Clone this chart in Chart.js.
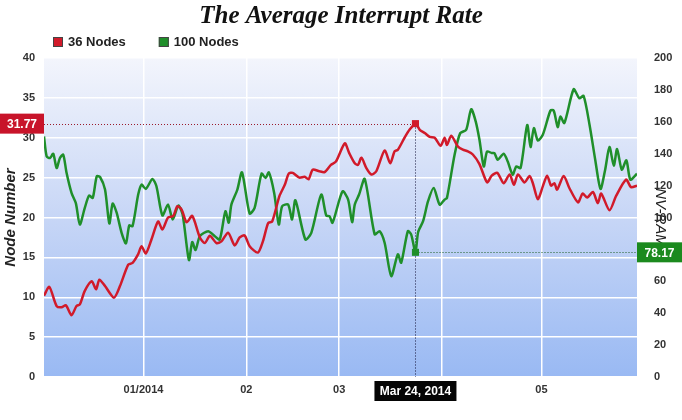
<!DOCTYPE html>
<html>
<head>
<meta charset="utf-8">
<script src="https://cdn.jsdelivr.net/npm/chart.js@4/dist/chart.umd.min.js"></script>
<style>
  body { margin: 0; background: #fff; }
  #wrap { width: 682px; height: 420px; }
</style>
</head>
<body>
<div id="wrap"><canvas id="grafik" width="682" height="420"></canvas></div>
<script>
// x values are days counted from Dec 2, 2013
const monthTicks = [30, 61, 89, 120, 150]
const monthLabels = ['01/2014', '02', '03', '04', '05']

const redDays = [0, 1.6, 3.8, 5.3, 6.6, 8.3, 9.8, 10.8, 12.3, 14.4, 15.7, 16.7, 18.4, 21.1, 22.9, 25.4, 26.7, 28.4, 29.4, 30.7,
    32.4, 34.4, 35.7, 37.4, 39, 40.2, 41.5, 43, 44.7, 47, 48.5, 50, 52, 53.5, 55.5, 57.5, 59, 60.5, 62, 64.5,
    66, 67.6, 68.8, 71, 72.6, 73.8, 75, 77, 78.6, 79.8, 81, 83, 84.6, 86.5, 88, 90.7, 92, 93.7, 94.7, 95.7,
    97.2, 98.7, 100.2, 102.7, 104.4, 105.7, 106.7, 108.7, 110.2, 112, 113.3, 114.8, 116.3, 117.8, 119.6, 120.8, 121.5, 122.8, 124.8, 126.3,
    127.8, 129.3, 131.3, 133.6, 135, 136.7, 138.6, 140.4, 141.7, 142.9, 144.9, 146.4, 147.4, 148.9, 150.4, 151.7, 152.9, 153.9, 154.7, 156.7,
    158.4, 161, 162.4, 163.8, 165.5, 167, 168, 170.5, 172.5, 175.5, 177, 178.8]
const nodes36 = [10.2, 11.3, 8.9, 8.75, 9.0, 7.75, 8.9, 9.1, 10.8, 12.0, 11.0, 12.2, 11.4, 9.95, 11.4, 14.1, 14.3, 15.4, 16.4, 15.5,
    17.25, 19.5, 18.5, 20.0, 20.2, 21.4, 21.0, 19.4, 20.2, 17.5, 16.8, 17.7, 16.8, 17.0, 18.1, 16.5, 17.5, 17.75, 16.4, 15.6,
    17.0, 19.3, 19.5, 22.7, 24.1, 25.5, 25.6, 25.0, 25.1, 24.8, 26.0, 25.8, 25.7, 26.6, 27.0, 29.3, 28.1, 26.8, 26.6, 27.5,
    26.2, 25.4, 25.8, 28.4, 26.8, 28.3, 28.5, 30.0, 31.0, 31.77, 31.0, 30.6, 30.1, 30.0, 29.0, 30.0, 29.1, 30.25, 28.9, 28.5,
    28.3, 27.9, 26.7, 24.4, 25.25, 25.6, 24.3, 25.4, 24.1, 25.4, 24.4, 25.2, 24.3, 22.3, 23.9, 25.25, 24.0, 24.3, 23.5, 25.2,
    23.7, 21.9, 23.0, 22.5, 23.2, 21.8, 23.0, 20.9, 22.7, 24.75, 23.8, 24.0]

const greenDays = [0, 0.8, 1.8, 2.8, 3.8, 4.8, 5.8, 6.8, 8.3, 9.6, 10.8, 12.3, 13.6, 14.7, 15.9, 16.9, 18.4, 19.7, 20.7, 21.9,
    23.4, 24.7, 25.7, 26.7, 28.4, 29.4, 30.7, 32.7, 33.9, 35.7, 37.4, 38.8, 40.5, 41.8, 43.7, 44.7, 45.7, 47, 49.5, 51.5,
    53, 54.7, 55.7, 56.5, 58.3, 59.7, 62, 63.5, 65.6, 66.8, 67.8, 69.4, 70.8, 71.8, 73.6, 74.8, 75.8, 78.8, 80.6, 83.6,
    85.1, 86.1, 87, 90, 91.7, 92.9, 93.7, 95, 96.7, 99.7, 101.2, 102.7, 104.7, 106.7, 107.7, 109.7, 110.7, 112, 112.8, 114.3,
    115.8, 117.5, 119.3, 120.8, 121.5, 123.8, 125.5, 127.3, 128.8, 130.2, 131.3, 132.6, 133.6, 135, 135.8, 136.8, 138.6, 139.8, 141.3, 142.4,
    143.7, 145.7, 146.7, 147.7, 148.9, 150.4, 152.7, 153.7, 154.9, 155.7, 156.9, 159.7, 161.4, 162.7, 164.5, 166.2, 167.8, 169.2, 170.5, 171.8,
    172.8, 174.2, 175.6, 176.8, 178.8]
const nodes100 = [150.8, 138.3, 137.3, 140, 131, 137.3, 139.4, 128, 115.4, 109, 95.6, 106, 113.75, 112.3, 125.8, 125.4, 117.5, 96.25, 108.75, 103,
    90.4, 83.75, 95, 94.6, 114.4, 120.6, 117.9, 124.2, 119.6, 101.25, 108.1, 98.75, 107.5, 101.9, 73.3, 84.6, 79.6, 88.3, 91.4, 88.3,
    86.25, 103.9, 96.7, 108.1, 117.5, 128.3, 102.5, 106, 127.5, 124.8, 128.3, 115.4, 95.6, 107, 108.1, 98.75, 110.8, 86.25, 90.4, 114.4,
    101.25, 100.8, 96.7, 116.4, 111.25, 97.1, 108.1, 114.4, 124.2, 89.4, 91.4, 84.2, 63.3, 76.9, 71.7, 91.4, 89.4, 78.17, 90.8, 97.7,
    110.2, 118.5, 108.1, 111.25, 112.3, 139.4, 152.9, 155, 167.9, 160, 148.75, 132, 141.4, 140.4, 140.4, 136.25, 140, 135.2, 126.9, 132,
    131, 158, 144.2, 156, 148.3, 151.9, 167, 167, 156.7, 163.3, 159.2, 180.4, 174.8, 176.25, 158, 136.25, 117.9, 130, 144.2, 132.5,
    142.9, 130, 135.8, 123.75, 127.5]

const crossDay = 112
const crossRed = 31.77
const crossGreen = 78.17
const crossLabel = 'Mar 24, 2014'

const RED = '#d11a2a'
const GREEN = '#1f8f2a'
const tickFont = { family: '"Liberation Sans", Arial, sans-serif', size: 11, weight: 'bold' }

function toPoints(days, values) {
    return days.map((d, i) => ({ x: d, y: values[i] }))
}

const plotBackground = {
    id: 'plotBackground',
    beforeDraw(chart) {
        const { ctx, chartArea: a } = chart
        const g = ctx.createLinearGradient(0, a.top, 0, a.bottom)
        g.addColorStop(0, '#f3f5fc')
        g.addColorStop(0.5, '#c7d6f6')
        g.addColorStop(1, '#99b9f3')
        ctx.save()
        ctx.fillStyle = g
        ctx.fillRect(a.left, a.top, a.width, a.height)
        ctx.restore()
    }
}

const topLegend = {
    id: 'topLegend',
    afterDraw(chart) {
        const { ctx } = chart
        let x = 53
        const y = 42
        ctx.save()
        ctx.font = 'bold 13px "Liberation Sans", Arial, sans-serif'
        ctx.textBaseline = 'middle'
        chart.data.datasets.forEach(ds => {
            ctx.fillStyle = ds.borderColor
            ctx.fillRect(x, y - 5, 10, 10)
            ctx.strokeStyle = '#444'
            ctx.lineWidth = 1
            ctx.strokeRect(x + 0.5, y - 4.5, 9, 9)
            ctx.fillStyle = '#222'
            ctx.fillText(ds.label, x + 15, y)
            x += 15 + ctx.measureText(ds.label).width + 33
        })
        ctx.restore()
    }
}

function dotted(ctx, x1, y1, x2, y2, color) {
    ctx.strokeStyle = color
    ctx.beginPath()
    ctx.moveTo(x1, y1)
    ctx.lineTo(x2, y2)
    ctx.stroke()
}

function tag(ctx, x, y, w, h, fill, text) {
    ctx.fillStyle = fill
    ctx.fillRect(x, y, w, h)
    ctx.fillStyle = '#fff'
    ctx.fillText(text, x + w / 2, y + h / 2 + 1)
}

const crosshair = {
    id: 'crosshair',
    beforeDatasetsDraw(chart) {
        const { ctx, chartArea: a, scales } = chart
        const cx = Math.round(scales.x.getPixelForValue(crossDay)) + 0.5
        const ry = Math.round(scales.y.getPixelForValue(crossRed)) + 0.5
        const gy = Math.round(scales.y1.getPixelForValue(crossGreen)) + 0.5
        ctx.save()
        ctx.lineWidth = 1
        ctx.setLineDash([1, 2])
        dotted(ctx, a.left, ry, cx, ry, '#9a1b2c')
        dotted(ctx, cx, gy, a.right, gy, '#1d5e24')
        dotted(ctx, cx, ry, cx, a.bottom, '#14143a')
        ctx.restore()
    },
    afterDraw(chart) {
        const { ctx, chartArea: a, scales } = chart
        const cx = scales.x.getPixelForValue(crossDay)
        const ry = scales.y.getPixelForValue(crossRed)
        const gy = scales.y1.getPixelForValue(crossGreen)
        ctx.save()
        ctx.font = 'bold 12px "Liberation Sans", Arial, sans-serif'
        ctx.textAlign = 'center'
        ctx.textBaseline = 'middle'
        tag(ctx, 0, ry - 10, a.left, 20, '#c8142a', crossRed.toFixed(2))
        tag(ctx, a.right, gy - 10, 45, 20, '#1b8a1e', crossGreen.toFixed(2))
        tag(ctx, cx - 41, a.bottom + 4, 82, 20, '#050505', crossLabel)
        ctx.restore()
    }
}

const markerRadius = c => (c.raw && c.raw.x === crossDay ? 5 : 0)

new Chart(document.getElementById('grafik'), {
    type: 'line',
    data: {
        datasets: [
            {
                label: '36 Nodes',
                data: toPoints(redDays, nodes36),
                yAxisID: 'y',
                borderColor: RED,
                backgroundColor: RED,
                borderWidth: 2.5,
                tension: 0.25,
                pointStyle: 'rect',
                pointRadius: markerRadius,
                pointBorderWidth: 0
            },
            {
                label: '100 Nodes',
                data: toPoints(greenDays, nodes100),
                yAxisID: 'y1',
                borderColor: GREEN,
                backgroundColor: GREEN,
                borderWidth: 2.5,
                tension: 0.25,
                pointStyle: 'rect',
                pointRadius: markerRadius,
                pointBorderWidth: 0
            }
        ]
    },
    options: {
        responsive: false,
        animation: false,
        layout: { padding: 0 },
        plugins: {
            legend: { display: false },
            tooltip: { enabled: false },
            title: {
                display: true,
                text: 'The Average Interrupt Rate',
                color: '#111',
                font: { family: '"Liberation Serif", "Times New Roman", serif', size: 25, weight: 'bold', style: 'italic' },
                padding: { top: 2, bottom: 26 }
            }
        },
        scales: {
            x: {
                type: 'linear',
                min: 0,
                max: 178.8,
                afterBuildTicks: s => { s.ticks = monthTicks.map(value => ({ value })) },
                afterFit: s => { s.height = 43 },
                ticks: {
                    autoSkip: false,
                    maxRotation: 0,
                    padding: 6,
                    color: '#333',
                    font: tickFont,
                    callback: (v, i) => monthLabels[i]
                },
                grid: { color: '#ffffff', lineWidth: 1.5, drawTicks: false },
                border: { display: false }
            },
            y: {
                position: 'left',
                min: 0,
                max: 40,
                afterFit: s => { s.width = 44 },
                ticks: { stepSize: 5, padding: 9, color: '#333', font: tickFont },
                grid: { color: '#ffffff', lineWidth: 1.5, drawTicks: false },
                border: { display: false },
                title: {
                    display: true,
                    text: 'Node Number',
                    color: '#222',
                    font: { family: '"Liberation Sans", Arial, sans-serif', size: 15, weight: 'bold', style: 'italic' },
                    padding: { top: 2, bottom: 0 }
                }
            },
            y1: {
                position: 'right',
                min: 0,
                max: 200,
                afterFit: s => { s.width = 45 },
                ticks: { stepSize: 20, padding: 9, color: '#333', font: tickFont },
                grid: { display: false },
                border: { display: false },
                title: {
                    display: true,
                    text: 'NV-RAM',
                    color: '#222',
                    font: { family: '"Liberation Sans", Arial, sans-serif', size: 15, style: 'italic' },
                    padding: { top: 13, bottom: 0 }
                }
            }
        }
    },
    plugins: [plotBackground, topLegend, crosshair]
})
</script>
</body>
</html>
